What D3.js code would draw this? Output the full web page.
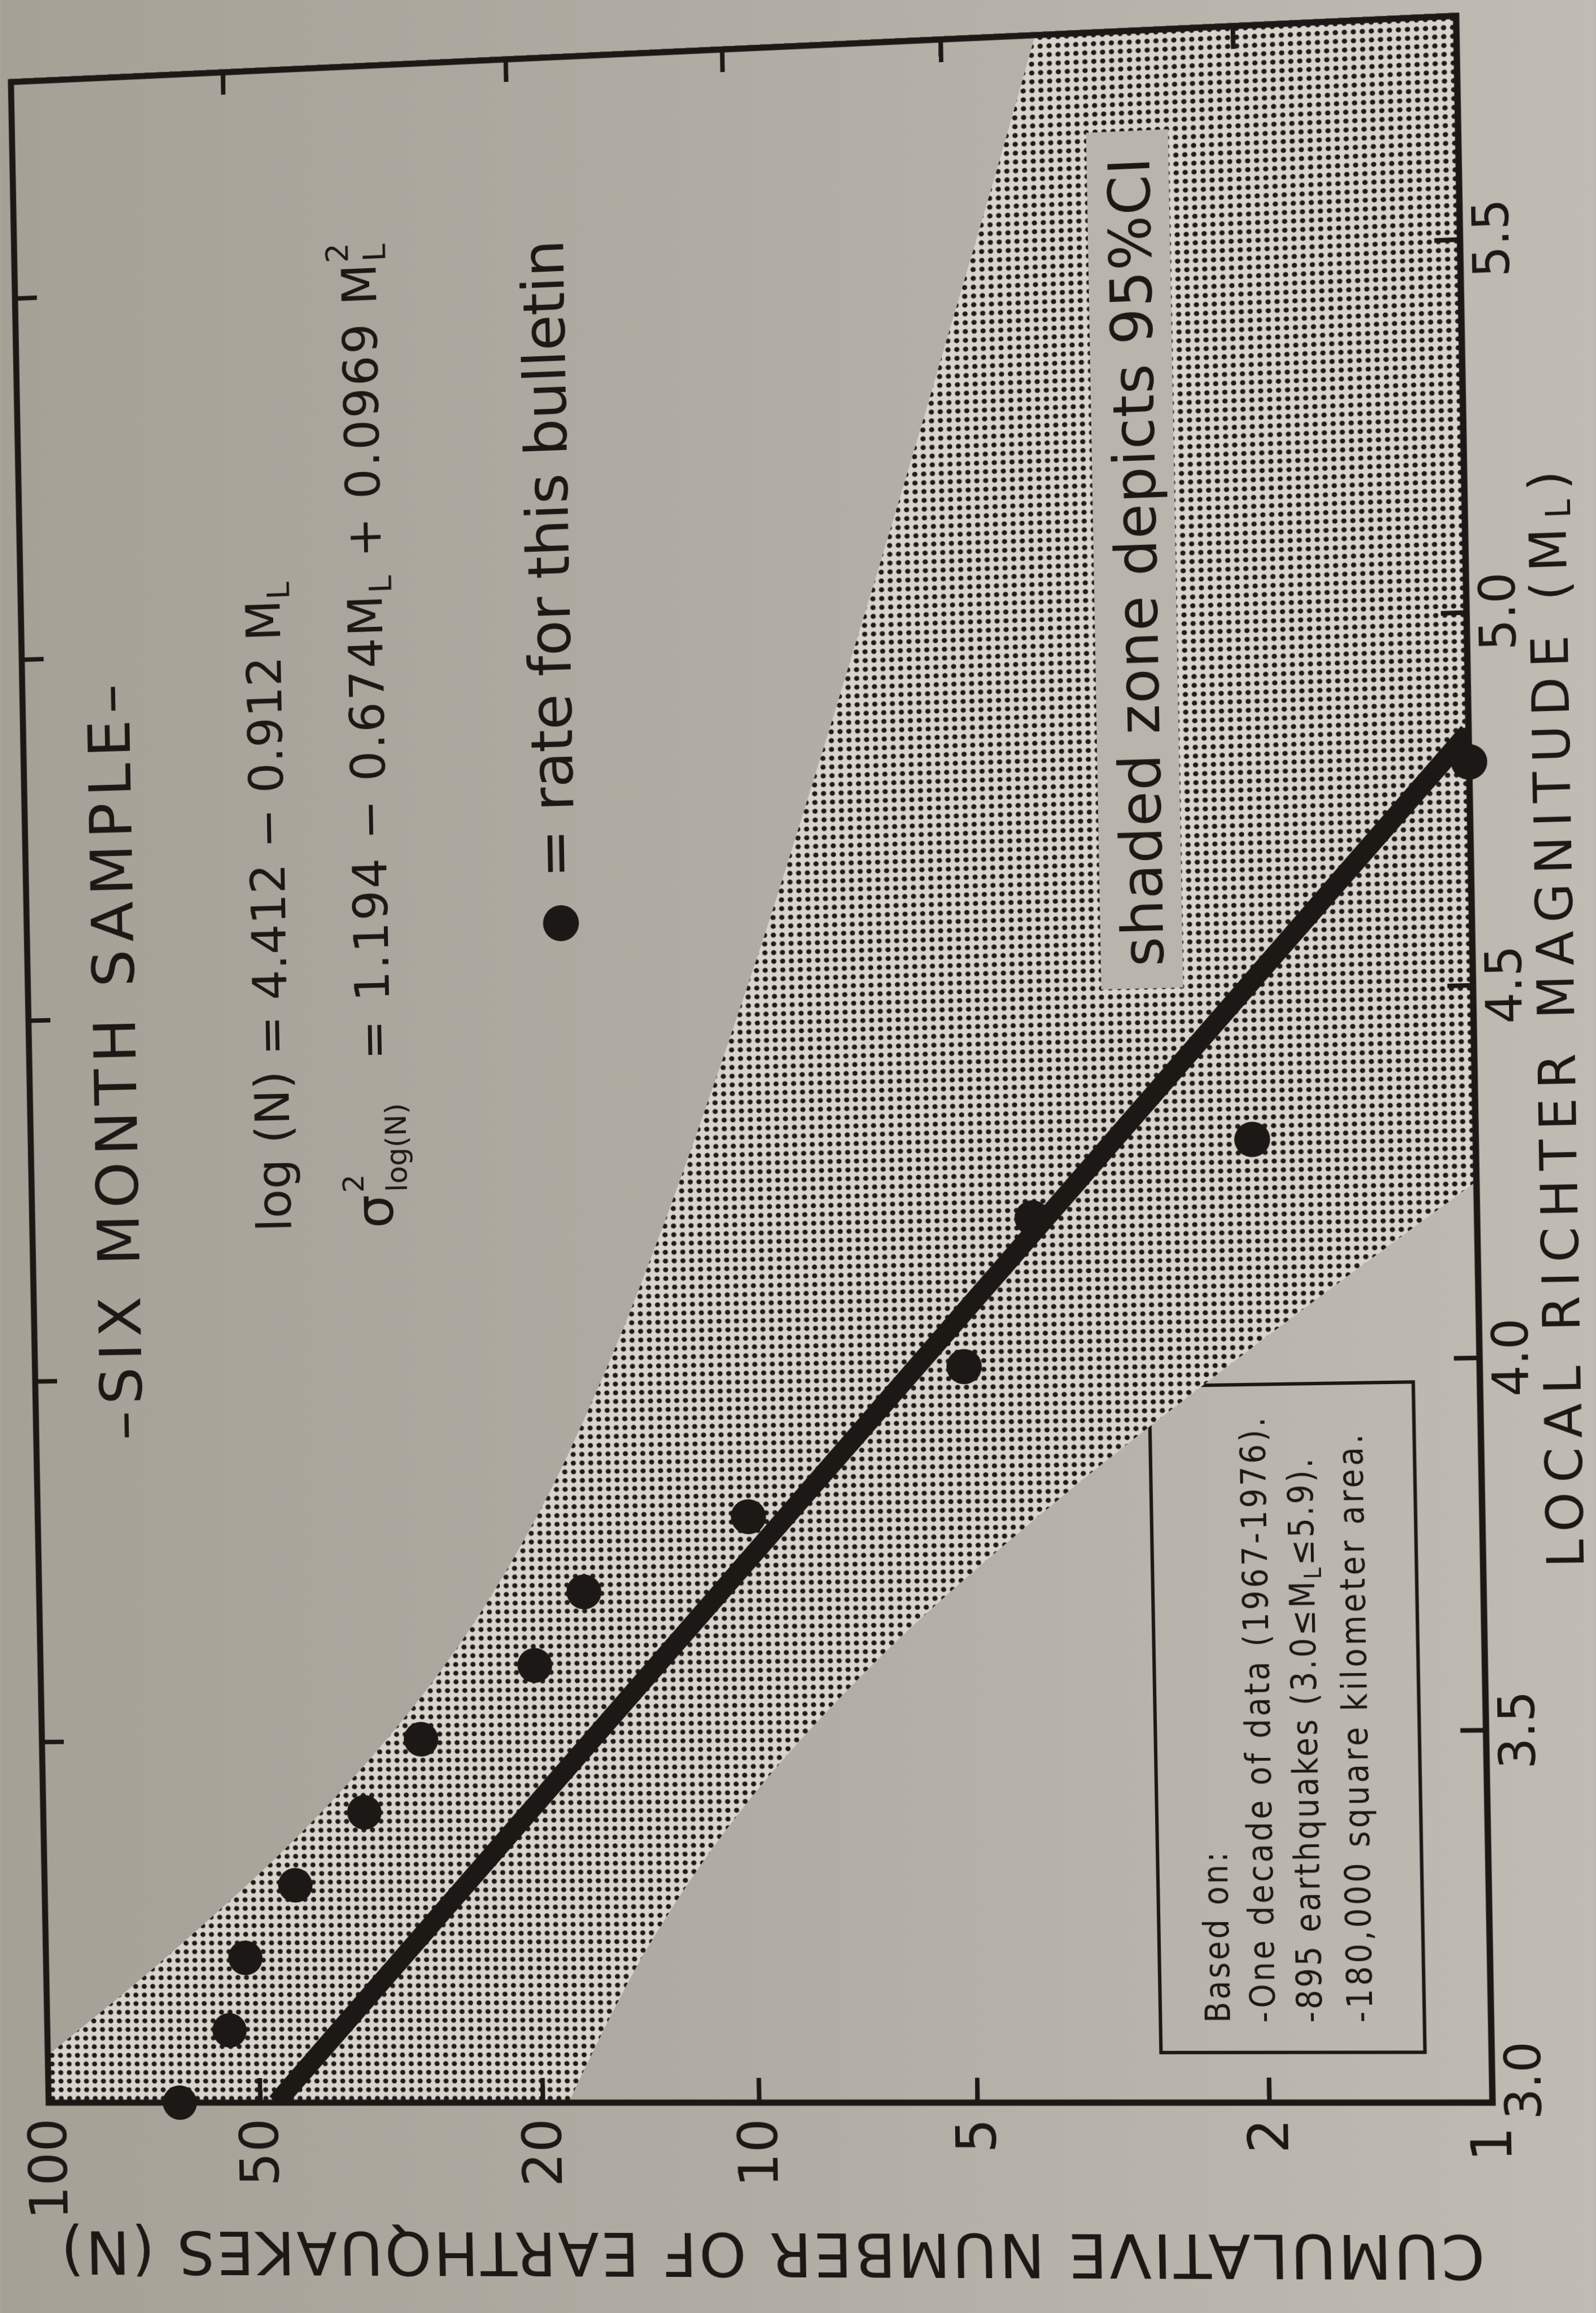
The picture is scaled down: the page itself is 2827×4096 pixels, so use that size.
<!DOCTYPE html>
<html><head><meta charset="utf-8">
<script src="https://cdn.jsdelivr.net/npm/d3@7"></script>
<style>
html,body{margin:0;padding:0;width:2827px;height:4096px;overflow:hidden;}
body{background:linear-gradient(90deg,#a6a197 0%,#b1aca3 45%,#c0bcb3 100%);}
#chart{position:absolute;left:0;top:0;transform-origin:0 0;}
</style></head><body>
<svg id="chart"></svg>
<script>
// ---------------- data ----------------
const magTicks   = [3.0, 3.5, 4.0, 4.5, 5.0, 5.5];
const countTicks = [1, 2, 5, 10, 20, 50, 100];
const mirrorMagTicks   = [3.5, 4.0, 4.5, 5.0, 5.5];
const mirrorCountTicks = [2, 5, 10, 20, 50];

// observed cumulative counts for this bulletin
const obsMag   = [3.0, 3.1, 3.2, 3.3, 3.4, 3.5, 3.6, 3.7, 3.8, 4.0, 4.2, 4.3, 4.8];
const obsCount = [65, 55, 52, 44, 35, 29, 20, 17, 10, 5, 4, 2, 1];

// fitted line end points
const fitMag   = [3.0, 4.84];
const fitCount = [47.4, 1.0];

// 95% CI shaded zone
const bandMag      = [3.0, 3.2, 3.4, 3.6, 3.8, 4.0, 4.2, 4.4, 4.6, 4.8, 5.0, 5.2, 5.4, 5.6, 5.8];
const bandUpper    = [122, 67.6, 40.3, 26.8, 19.8, 15.7, 12.9, 10.8, 9.13, 7.80, 6.69, 5.75, 4.96, 4.28, 3.71];
const bandLowerMag = [3.0, 3.2, 3.4, 3.6, 3.8, 4.0, 4.2, 4.4, 4.6];
const bandLower    = [18.4, 14.4, 10.4, 6.74, 3.94, 2.15, 1.13, 0.583, 0.297];

const noteLines = ["Based on:", "-One decade of data (1967-1976).", "-895 earthquakes (3.0\u2264M", "-180,000 square kilometer area."];

// ---------------- layout ----------------
const W = 3639, H = 2556, ml = 420, mr = 120, mt = 120, mb = 340;
const FONT = "'DejaVu Sans', 'Liberation Sans', Arial, sans-serif";
const FONTC = "'DejaVu Sans Condensed', 'Liberation Sans Narrow', 'DejaVu Sans', sans-serif";
const INK = "#1b1815";
const PAPER_BOX = "#b9b5ac";

const x = d3.scaleLinear().domain([3.0, 5.8]).range([0, W]);
const y = d3.scaleLog().domain([1, 100]).range([H, 0]);

const svg = d3.select("#chart").attr("width", ml + W + mr).attr("height", mt + H + mb);
const defs = svg.append("defs");
defs.append("clipPath").attr("id", "frameClip")
  .append("rect").attr("x", 0).attr("y", 0).attr("width", W).attr("height", H);
const pat = defs.append("pattern").attr("id", "dots").attr("patternUnits", "userSpaceOnUse")
  .attr("width", 15.5).attr("height", 15.5);
pat.append("rect").attr("width", 15.5).attr("height", 15.5).attr("fill", "#d8d4cc");
pat.append("circle").attr("cx", 7.75).attr("cy", 7.75).attr("r", 4.5).attr("fill", "#1e1b18");

const g = svg.append("g").attr("transform", `translate(${ml},${mt})`);

// legend ("Based on") box
const nb = {m0: 3.0678, m1: 3.9695, n0: 2.797, n1: 1.229};
g.append("rect")
  .attr("x", x(nb.m0)).attr("y", y(nb.n0))
  .attr("width", x(nb.m1) - x(nb.m0)).attr("height", y(nb.n1) - y(nb.n0))
  .attr("fill", "none").attr("stroke", INK).attr("stroke-width", 6);

const noteBase = [2.248, 1.955, 1.690, 1.443];
const noteLen  = [300, 1062, 989, 1030];
noteLines.forEach((t, i) => {
  const tx = g.append("text").attr("x", x(3.108)).attr("y", y(noteBase[i]))
    .attr("font-family", FONTC).attr("font-size", 60).attr("fill", INK)
    .attr("textLength", noteLen[i]).attr("lengthAdjust", "spacing");
  tx.append("tspan").text(t);
  if (i === 2) {
    tx.append("tspan").attr("dy", 12).attr("font-size", 40).text("L");
    tx.append("tspan").attr("dy", -12).text("\u22645.9).");
  }
});

// shaded 95% CI zone
const lineGen = d3.line().curve(d3.curveCatmullRom.alpha(0.5));
const upperPts = bandMag.map((m, i) => [x(m), y(bandUpper[i])]);
const lowerPts = bandLowerMag.map((m, i) => [x(m), y(bandLower[i])]).reverse();
const bandPath = lineGen(upperPts) + "L" + x(5.8) + "," + y(0.2) + lineGen(lowerPts).replace(/^M/, "L") + "Z";
g.append("path").attr("d", bandPath).attr("fill", "url(#dots)").attr("clip-path", "url(#frameClip)");

// label box inside shaded zone
g.append("rect")
  .attr("x", x(4.507)).attr("y", y(3.18))
  .attr("width", x(5.665) - x(4.507)).attr("height", y(2.46) - y(3.18))
  .attr("fill", PAPER_BOX);
g.append("text").attr("x", x(4.5366)).attr("y", y(2.612))
  .attr("font-family", FONT).attr("font-size", 100).attr("fill", INK)
  .attr("textLength", x(5.629) - x(4.5366)).attr("lengthAdjust", "spacing")
  .text("shaded zone depicts 95%CI");

// title
g.append("text").attr("x", x(4.44)).attr("y", y(70.5))
  .attr("text-anchor", "middle").attr("font-family", FONT).attr("font-size", 106).attr("fill", INK)
  .attr("textLength", 1359).attr("lengthAdjust", "spacing")
  .text("\u2013SIX MONTH SAMPLE\u2013");

// equation 1
const eq1 = g.append("text").attr("x", x(4.2015)).attr("y", y(42.9))
  .attr("font-family", FONT).attr("font-size", 85).attr("fill", INK)
  .attr("textLength", x(5.096) - x(4.2015)).attr("lengthAdjust", "spacing");
eq1.append("tspan").text("log (N) = 4.412 \u2212 0.912 M");
eq1.append("tspan").attr("dy", 17).attr("font-size", 56).text("L");

// equation 2
const e2y = y(30.8);
const sig = g.append("text").attr("x", x(4.2035)).attr("y", e2y)
  .attr("font-family", FONT).attr("font-size", 95).attr("fill", INK).text("\u03c3");
const sigEnd = x(4.2035) + sig.node().getComputedTextLength() + 4;
g.append("text").attr("x", sigEnd).attr("y", e2y - 52)
  .attr("font-family", FONT).attr("font-size", 52).attr("fill", INK).text("2");
g.append("text").attr("x", sigEnd).attr("y", e2y + 26)
  .attr("font-family", FONT).attr("font-size", 52).attr("fill", INK).text("log(N)");
const eq2 = g.append("text").attr("x", x(4.435)).attr("y", e2y)
  .attr("font-family", FONT).attr("font-size", 85).attr("fill", INK)
  .attr("textLength", x(5.555) - x(4.435)).attr("lengthAdjust", "spacing");
eq2.append("tspan").text("= 1.194 \u2212 0.674M");
eq2.append("tspan").attr("dy", 17).attr("font-size", 56).text("L");
eq2.append("tspan").attr("dy", -17).text(" + 0.0969 M");
eq2.append("tspan").attr("dy", 17).attr("font-size", 56).text("L");
const nChars = eq2.node().getNumberOfChars();
const lastPos = eq2.node().getStartPositionOfChar(nChars - 1);
g.append("text").attr("x", lastPos.x).attr("y", e2y - 50)
  .attr("font-family", FONT).attr("font-size", 56).attr("fill", INK).text("2");

// legend: dot = rate for this bulletin
g.append("circle").attr("cx", x(4.616)).attr("cy", y(17.6)).attr("r", 32).attr("fill", INK);
g.append("text").attr("x", x(4.678)).attr("y", y(16.8))
  .attr("font-family", FONT).attr("font-size", 104).attr("fill", INK)
  .attr("textLength", x(5.551) - x(4.678)).attr("lengthAdjust", "spacing")
  .text("= rate for this bulletin");

// fitted line
g.append("path")
  .attr("d", d3.line()(fitMag.map((m, i) => [x(m), y(fitCount[i])])))
  .attr("stroke", INK).attr("stroke-width", 34).attr("fill", "none")
  .attr("clip-path", "url(#frameClip)");

// observed points
g.selectAll("circle.obs").data(obsMag.map((m, i) => ({m, n: obsCount[i]})))
  .join("circle").attr("class", "obs")
  .attr("cx", d => x(d.m)).attr("cy", d => y(d.n)).attr("r", 31).attr("fill", INK);

// frame
g.append("rect").attr("x", 0).attr("y", 0).attr("width", W).attr("height", H)
  .attr("fill", "none").attr("stroke", INK).attr("stroke-width", 11);

// axes
function styleAxis(sel, fs) {
  sel.select(".domain").remove();
  sel.attr("font-family", FONT).attr("font-size", fs);
  sel.selectAll("line").attr("stroke", INK).attr("stroke-width", 8);
  sel.selectAll("text").attr("fill", INK);
}
const gB = g.append("g").attr("transform", `translate(0,${H})`)
  .call(d3.axisBottom(x).tickValues(magTicks).tickFormat(d3.format(".1f"))
    .tickSizeInner(-44).tickSizeOuter(0).tickPadding(22));
styleAxis(gB, 86);
gB.selectAll(".tick").filter(d => d === 3.0).select("text").attr("dx", 38);

const gL = g.append("g")
  .call(d3.axisLeft(y).tickValues(countTicks).tickFormat(d3.format("d"))
    .tickSizeInner(-44).tickSizeOuter(0).tickPadding(28));
styleAxis(gL, 96);
gL.selectAll(".tick").filter(d => d === 1).select("text").attr("dx", -14);

const gT = g.append("g")
  .call(d3.axisTop(x).tickValues(mirrorMagTicks).tickFormat("").tickSizeInner(-40).tickSizeOuter(0));
styleAxis(gT, 10);
const gR = g.append("g").attr("transform", `translate(${W},0)`)
  .call(d3.axisRight(y).tickValues(mirrorCountTicks).tickFormat("").tickSizeInner(-40).tickSizeOuter(0));
styleAxis(gR, 10);

// axis titles
const xt = g.append("text").attr("x", x(4.452)).attr("y", H + 172)
  .attr("text-anchor", "middle").attr("font-family", FONT).attr("font-size", 88).attr("fill", INK)
  .attr("textLength", 1909).attr("lengthAdjust", "spacing");
xt.append("tspan").text("LOCAL RICHTER MAGNITUDE (M");
xt.append("tspan").attr("dy", 8).attr("font-size", 58).text("L");
xt.append("tspan").attr("dy", -8).text(")");

g.append("text").attr("transform", `translate(-232,${H / 2}) rotate(-90)`)
  .attr("text-anchor", "middle").attr("font-family", FONT).attr("font-size", 107).attr("fill", INK)
  .attr("textLength", 2521).attr("lengthAdjust", "spacing")
  .text("CUMULATIVE NUMBER OF EARTHQUAKES (N)");

// ---------------- page placement (photo is rotated / in perspective) ----------------
const Aq = [86.2, 3723.5], Bq = [19.4, 145.3], Cq = [2579.2, 28.0], Dq = [2643.7, 3723.5];
function sq2quad(p0, p1, p2, p3) {
  const [x0, y0] = p0, [x1, y1] = p1, [x2, y2] = p2, [x3, y3] = p3;
  const dx1 = x1 - x2, dx2 = x3 - x2, dx3 = x0 - x1 + x2 - x3;
  const dy1 = y1 - y2, dy2 = y3 - y2, dy3 = y0 - y1 + y2 - y3;
  const den = dx1 * dy2 - dx2 * dy1;
  const gg = (dx3 * dy2 - dx2 * dy3) / den;
  const hh = (dx1 * dy3 - dx3 * dy1) / den;
  return [[x1 - x0 + gg * x1, x3 - x0 + hh * x3, x0],
          [y1 - y0 + gg * y1, y3 - y0 + hh * y3, y0],
          [gg, hh, 1]];
}
const Hq = sq2quad(Aq, Bq, Cq, Dq);
const c0 = [Hq[0][0] / W, Hq[1][0] / W, Hq[2][0] / W];
const c1 = [Hq[0][1] / H, Hq[1][1] / H, Hq[2][1] / H];
const c2 = [Hq[0][2] - ml * c0[0] - mt * c1[0],
            Hq[1][2] - ml * c0[1] - mt * c1[1],
            Hq[2][2] - ml * c0[2] - mt * c1[2]];
svg.style("transform",
  `matrix3d(${c0[0]},${c0[1]},0,${c0[2]},${c1[0]},${c1[1]},0,${c1[2]},0,0,1,0,${c2[0]},${c2[1]},0,${c2[2]})`);
</script>
</body></html>
